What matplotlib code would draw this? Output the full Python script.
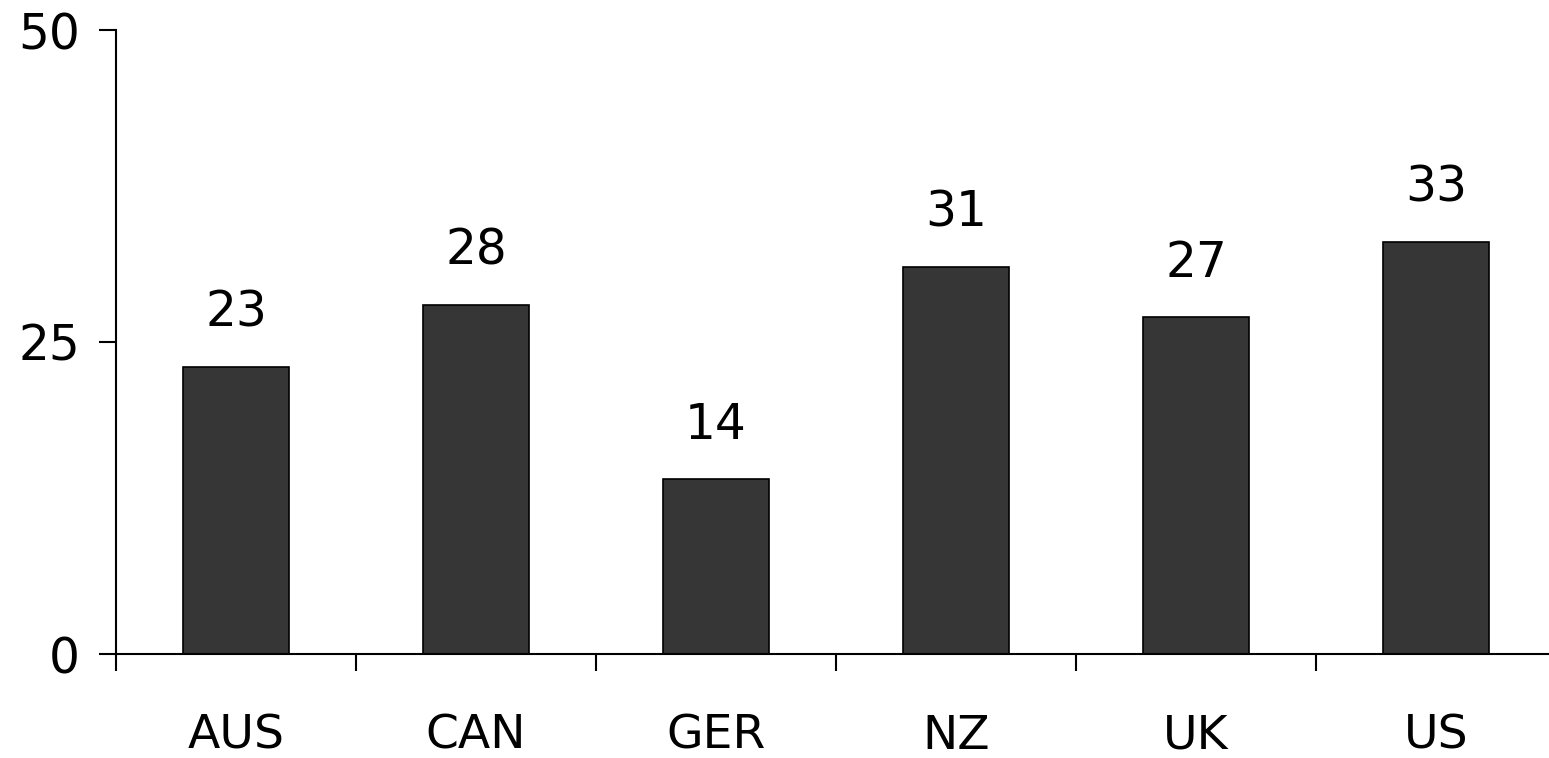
import matplotlib
matplotlib.use('Agg')
import matplotlib.pyplot as plt
import numpy as np

countries = ['AUS', 'CAN', 'GER', 'NZ', 'UK', 'US']
values = [23, 28, 14, 31, 27, 33]
yticks = [0, 25, 50]

plt.rcParams['font.family'] = 'DejaVu Sans'

fig = plt.figure(figsize=(15.49, 7.58), dpi=100)
ax = fig.add_axes([116 / 1549, 1 - 654 / 758, 1 - 116 / 1549, (654 - 30) / 758])

x = np.arange(len(countries)) + 0.5
ax.bar(x, values, width=0.44, color='#363636', edgecolor='black', linewidth=1.2)

# value labels above bars
for xi, v in zip(x, values):
    ax.annotate(str(v), (xi, v), xytext=(0, 29), textcoords='offset points',
                ha='center', va='baseline', fontsize=35)

ax.set_xlim(0, (1549 - 116) / 240)
ax.set_ylim(0, 50)

# category boundaries as major ticks, names on minor ticks
ax.set_xticks(np.arange(0, len(countries)))
ax.set_xticklabels([])
ax.set_xticks(x, minor=True)
ax.set_xticklabels(countries, minor=True, fontsize=34)
ax.tick_params(axis='x', which='major', direction='out', length=12, width=1.5)
ax.tick_params(axis='x', which='minor', length=0, pad=43)

ax.set_yticks(yticks)
ax.set_yticklabels([str(t) for t in yticks], fontsize=35)
ax.tick_params(axis='y', direction='out', length=12, width=1.5, pad=14)

for s in ['top', 'right']:
    ax.spines[s].set_visible(False)
for s in ['left', 'bottom']:
    ax.spines[s].set_linewidth(1.5)

fig.savefig('out.png', dpi=100)
